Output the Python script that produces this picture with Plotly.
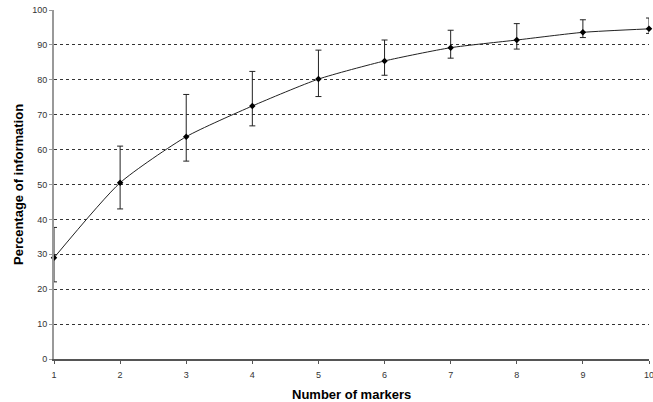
import plotly.graph_objects as go

markers = [1, 2, 3, 4, 5, 6, 7, 8, 9, 10]
info_pct = [29.0, 50.5, 63.7, 72.5, 80.2, 85.4, 89.2, 91.4, 93.6, 94.6]
err_upper = [37.7, 61.0, 75.8, 82.4, 88.5, 91.4, 94.2, 96.1, 97.2, 97.7]
err_lower = [22.1, 43.0, 56.7, 66.8, 75.2, 81.3, 86.2, 88.8, 92.1, 93.3]

plus = [u - v for u, v in zip(err_upper, info_pct)]
minus = [v - l for v, l in zip(info_pct, err_lower)]

fig = go.Figure()
fig.add_trace(go.Scatter(
    x=markers, y=info_pct,
    mode="lines+markers",
    line=dict(color="#222222", width=1, shape="spline", smoothing=0.6),
    marker=dict(symbol="diamond", size=5, color="black"),
    error_y=dict(type="data", symmetric=False, array=plus, arrayminus=minus,
                 color="#222222", thickness=1, width=3),
    cliponaxis=False,
    showlegend=False,
))

fig.update_layout(
    width=653, height=402,
    margin=dict(l=54, r=4, t=10, b=43, autoexpand=False),
    paper_bgcolor="white", plot_bgcolor="white",
    font=dict(family="Liberation Sans, Arial, sans-serif", color="#333333"),
    xaxis=dict(
        range=[1, 10], tickvals=markers, showgrid=False, zeroline=False,
        showline=True, linecolor="#555555", linewidth=2,
        ticks="outside", ticklen=3, tickcolor="#555555",
        tickfont=dict(size=9), automargin=False,
        ticklabeloverflow="allow", ticklabelstandoff=3,
    ),
    yaxis=dict(
        range=[0, 100], dtick=10, showgrid=True,
        gridcolor="#333333", griddash="dot", gridwidth=1,
        zeroline=False, showline=True, linecolor="#999999", linewidth=2,
        ticks="outside", ticklen=3, tickcolor="#999999",
        tickfont=dict(size=9), automargin=False,
        ticklabeloverflow="allow",
    ),
    annotations=[
        dict(text="<b>Number of markers</b>", xref="paper", yref="paper",
             x=0.5, y=0, yshift=-26, xanchor="center", yanchor="top",
             showarrow=False, font=dict(size=13, color="black")),
        dict(text="<b>Percentage of information</b>", xref="paper", yref="paper",
             x=0, y=0.5, xshift=-26, xanchor="right", yanchor="middle",
             textangle=-90, showarrow=False, font=dict(size=13, color="black")),
    ],
)

fig.write_html("out.html", config={"displayModeBar": False},
               post_script="document.body.style.margin='0';document.body.style.overflow='hidden';")
